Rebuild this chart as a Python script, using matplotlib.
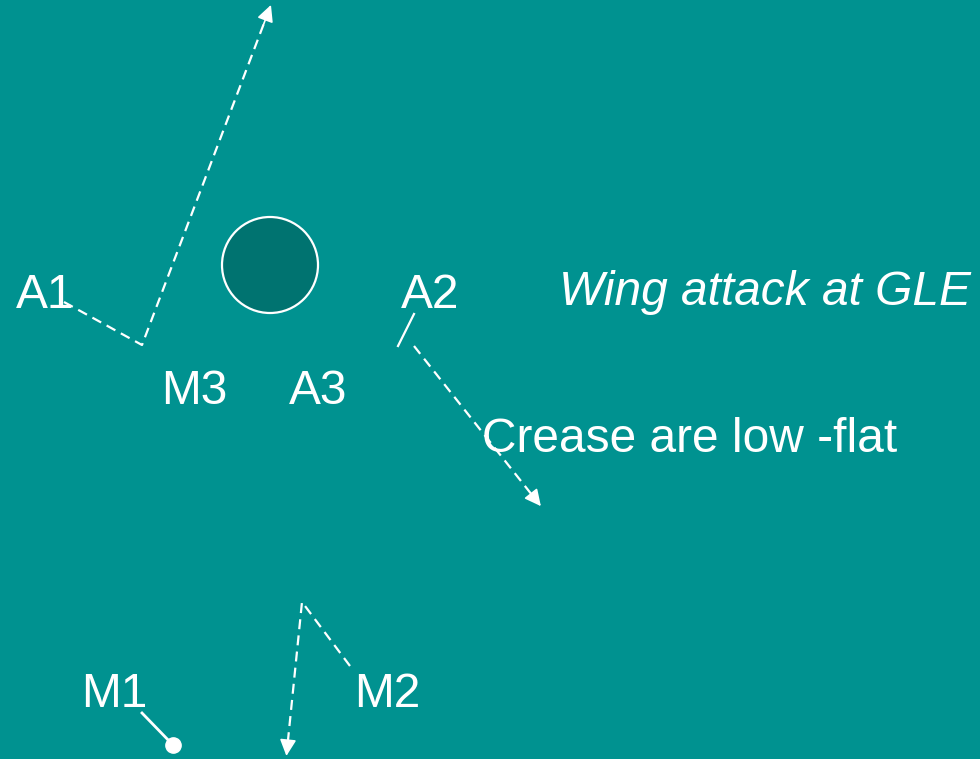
import matplotlib
matplotlib.use("Agg")
import matplotlib.pyplot as plt
from matplotlib.patches import Circle

BG = "#009290"
CIRCLE_FILL = "#007370"

# Paths (pixel coordinates, y down)
path_a1_x = [64, 142, 266]
path_a1_y = [302, 345, 18]
path_a2_x = [414, 536]
path_a2_y = [346, 500]
path_m2_x = [350, 302, 287]
path_m2_y = [666, 602, 750]
tick_a2_x = [414, 398]
tick_a2_y = [314, 346]
line_m1_x = [142, 173]
line_m1_y = [713, 745]
circle_center = (270, 265)
circle_radius = 48

labels = ["A1", "A2", "M3", "A3", "M1", "M2"]
label_x = [16, 401, 161, 289, 81, 354]
label_y = [308, 308, 404, 404, 707, 707]

fig = plt.figure(figsize=(9.8, 7.59), dpi=100)
fig.patch.set_facecolor(BG)
ax = fig.add_axes([0, 0, 1, 1])
ax.set_facecolor(BG)
ax.set_xlim(0, 980)
ax.set_ylim(759, 0)
ax.axis("off")

FONT = "Liberation Sans"
FS = 34.5
dash_kw = dict(color="white", lw=1.6, dashes=(4.5, 2.8), solid_capstyle="butt")

ax.plot(path_a1_x, path_a1_y, **dash_kw)
ax.plot(path_a2_x, path_a2_y, **dash_kw)
ax.plot(path_m2_x, path_m2_y, **dash_kw)

def head(xs, ys):
    ax.annotate("", xy=(xs[-1] + (xs[-1]-xs[-2])*0.04, ys[-1] + (ys[-1]-ys[-2])*0.04),
                xytext=(xs[-1] - (xs[-1]-xs[-2])*0.02, ys[-1] - (ys[-1]-ys[-2])*0.02),
                arrowprops=dict(arrowstyle="-|>,head_length=1.0,head_width=0.5",
                                color="white", lw=1.2, shrinkA=0, shrinkB=0))

head(path_a1_x, path_a1_y)
head(path_a2_x, path_a2_y)
head(path_m2_x, path_m2_y)

ax.plot(tick_a2_x, tick_a2_y, color="white", lw=1.6)
ax.plot(line_m1_x, line_m1_y, color="white", lw=2.0)
ax.plot([line_m1_x[-1]], [line_m1_y[-1]], "o", color="white", ms=11)

ax.add_patch(Circle(circle_center, circle_radius, facecolor=CIRCLE_FILL,
                    edgecolor="white", lw=1.6))

for t, x, y in zip(labels, label_x, label_y):
    ax.text(x, y, t, color="white", fontsize=FS, family=FONT, ha="left", va="baseline")

ax.text(559, 305, "Wing attack at GLE", color="white", fontsize=FS, family=FONT,
        style="italic", ha="left", va="baseline")
ax.text(482, 452, "Crease are low -flat", color="white", fontsize=FS, family=FONT,
        ha="left", va="baseline")

fig.savefig("out.png", dpi=100, facecolor=BG)
